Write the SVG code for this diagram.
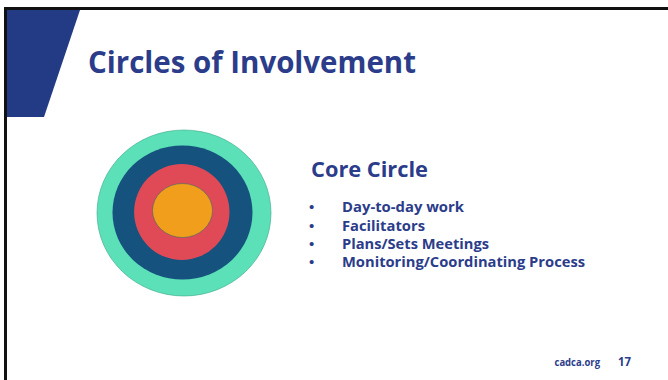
<svg xmlns="http://www.w3.org/2000/svg" width="668" height="380" viewBox="0 0 668 380">
  <style>
    .t { font-family: "Open Sans", "Lato", "Liberation Sans", sans-serif; font-weight: 700; fill: #2b3c8a; }
    .b { font-family: "Liberation Sans", sans-serif; font-size: 15px; fill: #2b3c8a; }
  </style>
  <rect x="0" y="0" width="668" height="380" fill="#ffffff"/>
  <g id="frame">
    <line x1="4" y1="8.5" x2="668" y2="8.5" stroke="#111" stroke-width="3"/>
    <line x1="5.5" y1="7" x2="5.5" y2="380" stroke="#111" stroke-width="3"/>
  </g>
  <g id="accent">
    <polygon points="7,10 80,10 44,117 7,117" fill="#233a85"/>
  </g>
  <g id="title">
    <text class="t" x="88" y="73" font-size="30" textLength="328" lengthAdjust="spacingAndGlyphs">Circles of Involvement</text>
  </g>
  <g id="circles">
    <ellipse cx="184" cy="213" rx="87" ry="83" fill="#5ce0b8" stroke="#3aa88a" stroke-width="0.6"/>
    <ellipse cx="182.5" cy="212.5" rx="70" ry="67" fill="#15527e"/>
    <ellipse cx="181.8" cy="212" rx="47.7" ry="48" fill="#e04a57"/>
    <ellipse cx="182.5" cy="210.5" rx="30" ry="27" fill="#f09e1c" stroke="#3e6a6a" stroke-width="0.6"/>
  </g>
  <g id="core-text">
    <text class="t" x="311" y="176.7" font-size="20.5" textLength="117" lengthAdjust="spacingAndGlyphs">Core Circle</text>
    <text class="b" x="309" y="212">•</text>
    <text class="b" x="309" y="230.5">•</text>
    <text class="b" x="309" y="249">•</text>
    <text class="b" x="309" y="267">•</text>
    <g font-size="14.5">
      <text class="t" x="342" y="212" textLength="122" lengthAdjust="spacingAndGlyphs">Day-to-day work</text>
      <text class="t" x="342" y="230.5" textLength="83" lengthAdjust="spacingAndGlyphs">Facilitators</text>
      <text class="t" x="342" y="249" textLength="147" lengthAdjust="spacingAndGlyphs">Plans/Sets Meetings</text>
      <text class="t" x="342" y="267" textLength="243" lengthAdjust="spacingAndGlyphs">Monitoring/Coordinating Process</text>
    </g>
  </g>
  <g id="footer">
    <text class="t" x="554.5" y="366" font-size="10.5" textLength="45.5" lengthAdjust="spacingAndGlyphs">cadca.org</text>
    <text class="t" x="618" y="366" font-size="12" textLength="13" lengthAdjust="spacingAndGlyphs">17</text>
  </g>
</svg>
